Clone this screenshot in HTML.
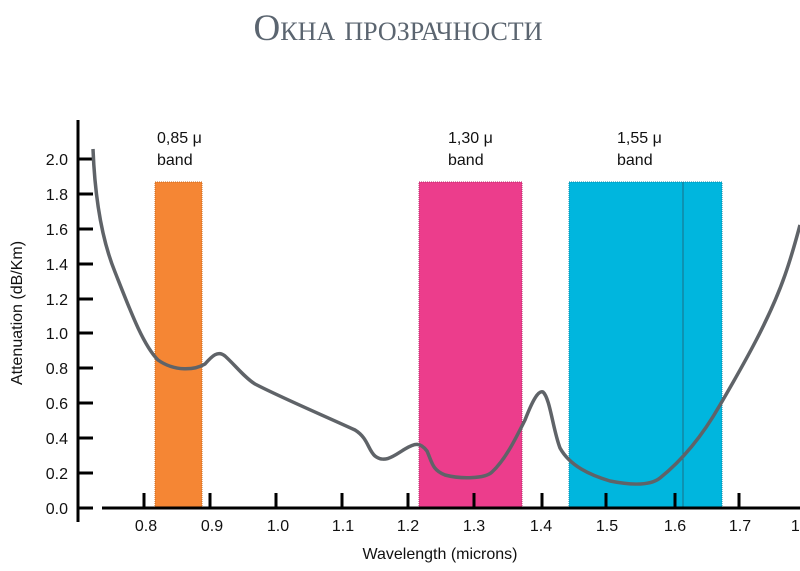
<!DOCTYPE html>
<html><head><meta charset="utf-8"><style>
body{margin:0;background:#fff;width:800px;height:571px;overflow:hidden}
svg{display:block}
</style></head><body>
<svg width="800" height="571" viewBox="0 0 800 571" xmlns="http://www.w3.org/2000/svg">
<text x="398" y="40" text-anchor="middle" font-family="Liberation Serif, serif" font-size="37" fill="#5b6570" style="font-variant:small-caps">Окна прозрачности</text>
<g font-family="Liberation Sans, sans-serif" font-size="16" fill="#111">
<rect x="155" y="182" width="47" height="326" fill="#f58634" stroke="#c86a20" stroke-dasharray="1,1" stroke-width="1"/>
<rect x="419" y="182" width="103" height="326" fill="#ec3d8c" stroke="#b82a6a" stroke-dasharray="1,1" stroke-width="1"/>
<rect x="569" y="182" width="153" height="326" fill="#00b6de" stroke="#0a8aa8" stroke-dasharray="1,1" stroke-width="1"/>
<line x1="683" y1="182" x2="683" y2="508" stroke="#1a6e85" stroke-width="1"/>
<line x1="78" y1="120" x2="78" y2="522" stroke="#000" stroke-width="3"/>
<line x1="102" y1="508" x2="800" y2="508" stroke="#000" stroke-width="3"/>
<g stroke="#000" stroke-width="3">
<line x1="78" x2="93" y1="159" y2="159"/><line x1="78" x2="93" y1="194" y2="194"/><line x1="78" x2="93" y1="229" y2="229"/><line x1="78" x2="93" y1="264" y2="264"/><line x1="78" x2="93" y1="299" y2="299"/><line x1="78" x2="93" y1="333" y2="333"/><line x1="78" x2="93" y1="368" y2="368"/><line x1="78" x2="93" y1="403" y2="403"/><line x1="78" x2="93" y1="438" y2="438"/><line x1="78" x2="93" y1="473" y2="473"/><line x1="78" x2="93" y1="508" y2="508"/>
<line x1="144" x2="144" y1="493" y2="508"/><line x1="210" x2="210" y1="493" y2="508"/><line x1="276" x2="276" y1="493" y2="508"/><line x1="342" x2="342" y1="493" y2="508"/><line x1="408" x2="408" y1="493" y2="508"/><line x1="474" x2="474" y1="493" y2="508"/><line x1="542" x2="542" y1="493" y2="508"/><line x1="606" x2="606" y1="493" y2="508"/><line x1="675" x2="675" y1="493" y2="508"/><line x1="739" x2="739" y1="493" y2="508"/>
</g>
<g text-anchor="end">
<text x="68" y="165">2.0</text><text x="68" y="200">1.8</text><text x="68" y="235">1.6</text><text x="68" y="270">1.4</text><text x="68" y="305">1.2</text><text x="68" y="339">1.0</text><text x="68" y="374">0.8</text><text x="68" y="409">0.6</text><text x="68" y="444">0.4</text><text x="68" y="479">0.2</text><text x="68" y="514">0.0</text>
</g>
<g text-anchor="middle">
<text x="146" y="531">0.8</text><text x="212" y="531">0.9</text><text x="278" y="531">1.0</text><text x="343" y="531">1.1</text><text x="408" y="531">1.2</text><text x="474" y="531">1.3</text><text x="541" y="531">1.4</text><text x="607" y="531">1.5</text><text x="675" y="531">1.6</text><text x="740" y="531">1.7</text><text x="802" y="531">1.8</text>
<text x="440" y="559">Wavelength (microns)</text>
<text transform="translate(22,313) rotate(-90)">Attenuation (dB/Km)</text>
</g>
<text x="157" y="143">0,85 μ</text><text x="157" y="165">band</text>
<text x="448" y="143">1,30 μ</text><text x="448" y="165">band</text>
<text x="617" y="143">1,55 μ</text><text x="617" y="165">band</text>
</g>
<path d="M93,149 C95,200 102,240 115,272 C130,310 143,345 158,360 C175,372 195,370 205,364 C212,356 218,350 225,356 C235,365 245,378 255,384 C280,397 320,414 355,430 C368,438 368,450 375,456 C385,464 395,455 405,449 C415,443 420,442 427,451 C432,462 432,470 445,475 C460,479 485,479 492,472 C505,460 515,440 525,420 C532,402 538,390 543,392 C550,398 553,430 560,448 C570,466 590,475 610,481 C630,485 650,486 660,478 C680,462 700,440 720,405 C745,362 770,318 785,275 C792,255 796,240 800,225" fill="none" stroke="#5f6368" stroke-width="3.5" stroke-linejoin="round"/>
</svg>
</body></html>
